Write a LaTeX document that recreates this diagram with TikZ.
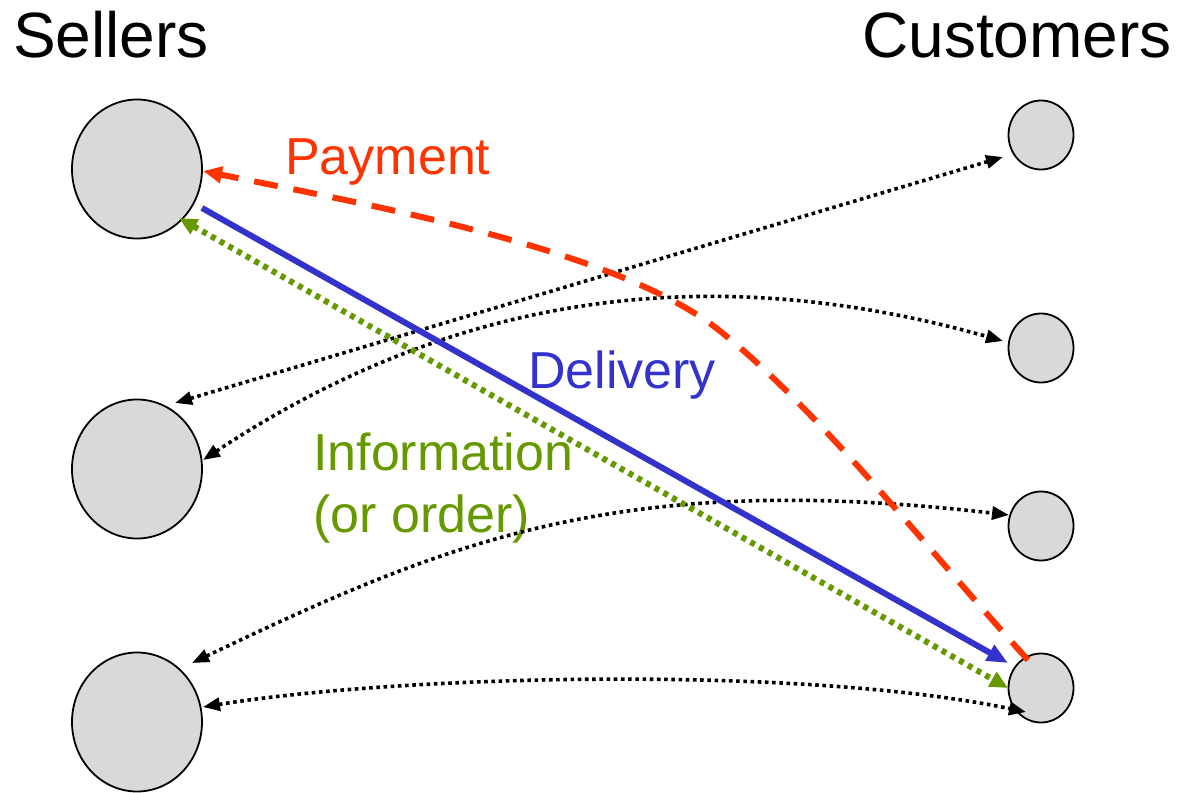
\documentclass[tikz,border=0pt]{standalone}
\usepackage{fontspec}
\setmainfont{Liberation Sans}
\usetikzlibrary{arrows.meta,calc,shapes.geometric}
\definecolor{payred}{HTML}{FF3300}
\definecolor{delblue}{HTML}{3333CC}
\definecolor{infogreen}{HTML}{669900}
\definecolor{partyfill}{HTML}{D9D9D9}
\tikzset{
  seller/.style={ellipse, draw=black, line width=1.8pt, fill=partyfill,
    minimum width=130pt, minimum height=139pt, inner sep=0pt},
  customer/.style={ellipse, draw=black, line width=1.8pt, fill=partyfill,
    minimum width=65pt, minimum height=69pt, inner sep=0pt},
  heading/.style={font=\fontsize{64}{70}\selectfont, inner sep=0pt},
  flowlabel/.style={font=\fontsize{52}{62}\selectfont, inner sep=0pt},
  tradeflow/.style={draw=black, line width=3.6pt, dash pattern=on 3.6pt off 3.6pt,
    {Triangle[length=17pt,width=13pt]}-{Triangle[length=17pt,width=13pt]}},
  paymentflow/.style={draw=payred, line width=6pt, dash pattern=on 24pt off 16pt,
    -{Triangle[length=19pt,width=16pt]}},
  deliveryflow/.style={draw=delblue, line width=6pt,
    -{Triangle[length=21pt,width=17pt]}},
  infoflow/.style={draw=infogreen, line width=6pt, dash pattern=on 5pt off 5pt,
    {Triangle[length=18pt,width=16pt]}-{Triangle[length=18pt,width=16pt]}},
}
\begin{document}
\begin{tikzpicture}[x=1pt, y=-1pt]
\useasboundingbox (0,0) rectangle (1177,792);

% parties
\node[seller] (s1) at (137,169) {};
\node[seller] (s2) at (137,469) {};
\node[seller] (s3) at (137,722) {};
\node[customer] (c1) at (1041,135) {};
\node[customer] (c2) at (1041,348) {};
\node[customer] (c3) at (1041,526) {};
\node[customer] (c4) at (1041,688) {};

% headings
\node[heading, anchor=base west] (sellers) at (13,57) {Sellers};
\node[heading, anchor=base east] (customers) at (1172,57) {Customers};

% flow labels
\node[flowlabel, anchor=base west, text=payred] (payment) at (285,174) {Payment};
\node[flowlabel, anchor=base west, text=delblue] (delivery) at (528,388) {Delivery};
\node[flowlabel, anchor=base west, text=infogreen] (info) at (313,470) {Information};
\node[flowlabel, anchor=base west, text=infogreen] (order) at (313,532) {(or order)};

% exchanges between other sellers and customers
\draw[tradeflow] ($(s2)+(38,-66)$) -- ($(c1)+(-38,22)$);
\draw[tradeflow] ($(s2)+(66,-9)$) .. controls (430,310) and (680,250) .. ($(c2)+(-38,-7)$);
\draw[tradeflow] ($(s3)+(55,-59)$) .. controls (450,540) and (620,470) .. ($(c3)+(-32,-11)$);
\draw[tradeflow] ($(s3)+(66,-15)$) .. controls (400,675) and (800,665) .. ($(c4)+(-15,24)$);

% the three flows of one transaction
\draw[infoflow] ($(s1)+(42,49)$) -- ($(c4)+(-33,0)$);
\draw[deliveryflow] ($(s1)+(65,39)$) -- ($(c4)+(-33,-25)$);
\draw[paymentflow] ($(c4)+(-13,-28)$) .. controls (928,550) and (820,411) .. (720,331)
  .. controls (620,251) and (385,208) .. ($(s1)+(66,2)$);
\end{tikzpicture}
\end{document}
